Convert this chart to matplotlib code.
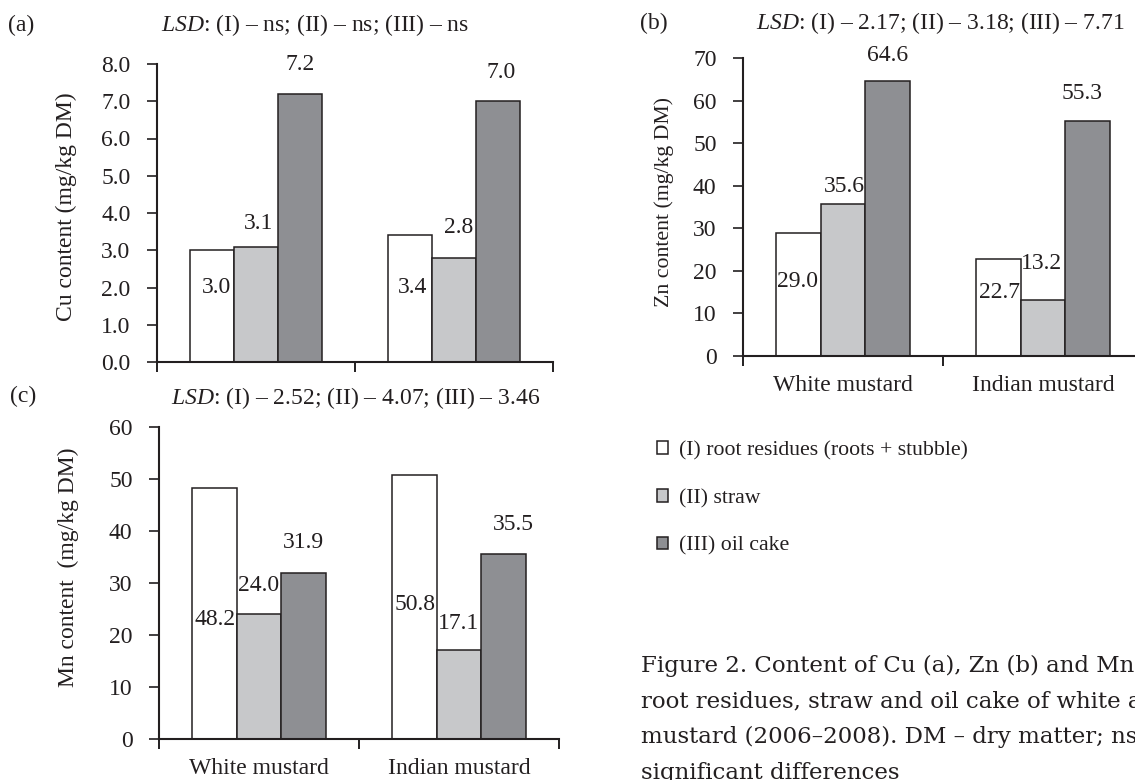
import matplotlib
matplotlib.use("Agg")
import matplotlib.pyplot as plt
import numpy as np

plt.rcParams["font.family"] = ["Liberation Serif", "DejaVu Serif"]
plt.rcParams["mathtext.fontset"] = "custom"
plt.rcParams["mathtext.it"] = "Liberation Serif:italic"
plt.rcParams["mathtext.rm"] = "Liberation Serif"

# ---- data -------------------------------------------------------------
crops = ["White mustard", "Indian mustard"]
fractions = ["(I) root residues (roots + stubble)", "(II) straw", "(III) oil cake"]

cu_values = [[3.0, 3.1, 7.2], [3.4, 2.8, 7.0]]      # per crop: I, II, III
zn_values = [[29.0, 35.6, 64.6], [22.7, 13.2, 55.3]]
mn_values = [[48.2, 24.0, 31.9], [50.8, 17.1, 35.5]]

cu_lsd = "ns; (II) – ns; (III) – ns"
zn_lsd = "2.17; (II) – 3.18; (III) – 7.71"
mn_lsd = "2.52; (II) – 4.07; (III) – 3.46"

# ---- style ------------------------------------------------------------
INK = "#231f20"
fills = ["#ffffff", "#c7c8ca", "#8e8f93"]
FS = 17
W, H = 1135, 780
fig = plt.figure(figsize=(W / 100, H / 100), dpi=100)

# label anchors (data y) and horizontal nudges (points)
cu_label_y = [[2.0, 3.73, 8.0], [2.0, 3.62, 7.76]]
zn_label_y = [[17.4, 39.7, 70.6], [15.0, 21.8, 61.6]]
mn_label_y = [[22.9, 29.6, 37.7], [25.8, 22.3, 41.2]]
cu_label_dx = [[3, 2, 0], [2, 3, 2]]
zn_label_dx = [[-1, 1, 0], [1, -1, -4]]
mn_label_dx = [[0, 0, 0], [0, 0, 7]]


def px_axes(left, top, right, bottom):
    return fig.add_axes([left / W, 1 - bottom / H, (right - left) / W, (bottom - top) / H])


def panel(ax, values, ymax, ystep, fmt, label_y, label_dx, ylabel, ylabel_xy,
          ylabel_fs, show_x):
    x = np.arange(len(crops))
    bw = 0.222
    vals = np.array(values)
    for j in range(len(fractions)):
        ax.bar(x + (j - 1) * bw, vals[:, j], width=bw, color=fills[j],
               edgecolor=INK, linewidth=1.1, label=fractions[j], zorder=2)
        for i in range(len(crops)):
            ax.annotate(f"{vals[i, j]:.1f}", xy=(x[i] + (j - 1) * bw, label_y[i][j]),
                        xytext=(label_dx[i][j], 0), textcoords="offset points",
                        ha="center", va="center", fontsize=FS, color=INK,
                        annotation_clip=False, zorder=3)
    ax.set_xlim(-0.5, len(crops) - 0.5)
    ax.set_ylim(0, ymax)
    ax.set_yticks(np.arange(0, ymax + ystep / 2, ystep))
    ax.yaxis.set_major_formatter(matplotlib.ticker.FormatStrFormatter(fmt))
    ax.set_xticks(x)
    ax.set_xticks(np.arange(-0.5, len(crops), 1.0), minor=True)
    ax.tick_params(axis="x", which="major", length=0, pad=14, labelsize=FS, colors=INK)
    ax.tick_params(axis="x", which="minor", length=7, width=1.4, direction="out", color=INK)
    ax.tick_params(axis="y", length=7, width=1.2, direction="out", labelsize=FS,
                   colors=INK, pad=12)
    if show_x:
        ax.set_xticklabels(crops)
    else:
        ax.set_xticklabels([])
    for s in ("top", "right"):
        ax.spines[s].set_visible(False)
    for s in ("left", "bottom"):
        ax.spines[s].set_color(INK)
        ax.spines[s].set_linewidth(1.5)
    ax.set_ylabel(ylabel, fontsize=ylabel_fs, color=INK)
    ax.yaxis.set_label_coords(*ylabel_xy)
    ax.patch.set_alpha(0)


ax_a = px_axes(157, 64, 553, 362)
panel(ax_a, cu_values, 8.0, 1.0, "%.1f", cu_label_y, cu_label_dx,
      "Cu content (mg/kg DM)", (-0.202, 0.52), FS, False)

ax_b = px_axes(743, 58, 1143, 356)
panel(ax_b, zn_values, 70, 10, "%d", zn_label_y, zn_label_dx,
      "Zn content (mg/kg DM)", (-0.172, 0.517), 15.7, True)

ax_c = px_axes(159, 427, 559, 739)
panel(ax_c, mn_values, 60, 10, "%d", mn_label_y, mn_label_dx,
      "Mn content  (mg/kg DM)", (-0.2, 0.551), FS, True)

# panel letters and LSD headers
for letter, lx, ly in (("(a)", 8, 25), ("(b)", 640, 23), ("(c)", 10, 396)):
    fig.text(lx / W, 1 - ly / H, letter, fontsize=FS, color=INK, va="center")
for lsd, cx, cy in ((cu_lsd, 315, 25), (zn_lsd, 940, 23), (mn_lsd, 356, 398)):
    fig.text(cx / W, 1 - cy / H, r"$\mathit{LSD}$: (I) – " + lsd, fontsize=FS,
             color=INK, ha="center", va="center")

# legend built from the bar series
handles, labels = ax_b.get_legend_handles_labels()
fig.legend(handles, labels, loc="upper left", bbox_to_anchor=(657 / W, 1 - 441 / H),
           frameon=False, fontsize=15.7, handlelength=0.5, handleheight=0.5,
           handletextpad=0.5, labelspacing=1.31, borderpad=0, borderaxespad=0,
           labelcolor=INK)

caption = ("Figure 2. Content of Cu (a), Zn (b) and Mn (c) in\n"
           "root residues, straw and oil cake of white and Indian\n"
           "mustard (2006–2008). DM – dry matter; ns – non-\n"
           "significant differences")
fig.text(641 / W, 1 - 655 / H, caption, fontsize=16.5, family="DejaVu Serif",
         color=INK, va="top", ha="left", linespacing=1.8)

fig.savefig("out.png", dpi=100)
